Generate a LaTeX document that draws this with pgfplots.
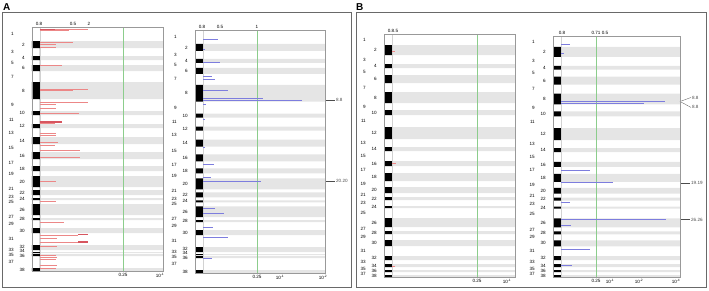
\documentclass[border=0pt]{standalone}
\usepackage{pgfplots}
\pgfplotsset{compat=1.18}
\usepackage{pgfplotstable}
\usepackage{fontspec}
\setmainfont{Liberation Sans}
\newcommand\lab{\fontsize{4.6}{5}\selectfont}
\definecolor{bandgray}{RGB}{229,229,229}
\definecolor{lred}{RGB}{236,135,135}
\definecolor{dred}{RGB}{215,85,95}
\definecolor{lblue}{RGB}{125,125,222}
\definecolor{lgreen}{RGB}{140,205,140}
\definecolor{framegray}{RGB}{105,105,105}

% even-numbered chromosome bands, panel A (start/end of each band)
\pgfplotstableread{
x y
0 41
1 41
1 48
0 48
0 56
1 56
1 60
0 60
0 65
1 65
1 71
0 71
0 82
1 82
1 99
0 99
0 111
1 111
1 115
0 115
0 124
1 124
1 128
0 128
0 137
1 137
1 144
0 144
0 152
1 152
1 159
0 159
0 166
1 166
1 171
0 171
0 176
1 176
1 187
0 187
0 190
1 190
1 195
0 195
0 198
1 198
1 200
0 200
0 204
1 204
1 215
0 215
0 218
1 218
1 220
0 220
0 228
1 228
1 233
0 233
0 245
1 245
1 250
0 250
0 252
1 252
1 253
0 253
0 254
1 254
1 256
0 256
0 268
1 268
1 271
0 271
}\bandsA

% panel B bands
\pgfplotstableread{
x y
0 45
1 45
1 55
0 55
0 64
1 64
1 68
0 68
0 75
1 75
1 83
0 83
0 92
1 92
1 103
0 103
0 110
1 110
1 115
0 115
0 127
1 127
1 139
0 139
0 147
1 147
1 151
0 151
0 161
1 161
1 166
0 166
0 173
1 173
1 181
0 181
0 187
1 187
1 193
0 193
0 197
1 197
1 200
0 200
0 206
1 206
1 208
0 208
0 218
1 218
1 227
0 227
0 231
1 231
1 234
0 234
0 240
1 240
1 246
0 246
0 256
1 256
1 260
0 260
0 264
1 264
1 267
0 267
0 270
1 270
1 272
0 272
0 275
1 275
1 277
0 277
}\bandsB

% panel A, left plot (red)
\pgfplotstableread{
x y
48 29
29 30
33 42
16 44
16 47
22 65
48 89
33 90.5
48 102
16 104
16 108
39 113
15 123.5
16 133
16 135
18 142
15 145
40 150
40 157
16 181
16 201
24 222
38 235
17 238
40 242
17 246
16 255
17 257
16 259
17 265
16 268
}\redA

% panel A, right plot (blue)
\pgfplotstableread{
x y
15 36
2 46
17 60
9 74
12 77
25 88
60 96
99 97.5
3 102
2 117
2 145
11 162
8 175
58 179
12 206
21 211
10 225
25 235
9 256
}\blueA

% panel B, left plot (red)
\pgfplotstableread{
x y
3 51
4 163
3 266
}\redB

% panel B, right plot (blue)
\pgfplotstableread{
x y
9 42
3 52
104 100
83 102
29 169
52 182
9 202
105 219
10 225
29 249
11 265
}\blueB

\pgfplotsset{
  chr/.style={
    scale only axis, anchor=north west, y dir=reverse, clip=false,
    axis line style={draw=gray!80, line width=0.4pt},
    xtick=\empty, major tick length=0pt,
    yticklabel style={font=\lab, anchor=east, inner sep=0pt, xshift=-18pt},
    extra y tick style={yticklabel style={xshift=11pt}},
    axis on top,
  },
  chrA/.style={chr, ymin=27, ymax=271, xmin=-8,
    ytick={34,52,62.5,76.5,105,119.5,132.5,148,162.5,173.5,188.5,196.5,202,216.5,224,239,249.5,254.5,262},
    yticklabels={1,3,5,7,9,11,13,15,17,19,21,23,25,27,29,31,33,35,37},
    extra y ticks={44.5,58,68,90.5,113,126,140.5,155.5,168.5,181.5,192.5,199,209.5,219,230.5,247,251.3,255.6,269.5},
    extra y tick labels={2,4,6,8,10,12,14,16,18,20,22,24,26,28,30,32,34,36,38}},
  chrB/.style={chr, ymin=34, ymax=277, xmin=-8,
    ytick={39.5,59.5,71.5,87.5,106.5,121,143,156,169.5,184,195,203,213,229,237,251,262,268.5,273.5},
    yticklabels={1,3,5,7,9,11,13,15,17,19,21,23,25,27,29,31,33,35,37},
    extra y ticks={50,66,79,97.5,112.5,133,149,163.5,177,190,198.5,207,222.5,232.5,243,258,265.5,271,276},
    extra y tick labels={2,4,6,8,10,12,14,16,18,20,22,24,26,28,30,32,34,36,38}},
}

% bands + ideogram (table, plot width, ymin, ymax)
\newcommand\ideo[4]{%
  \addplot[fill=bandgray, draw=none] table[x expr=\thisrow{x}*#2, y=y] {#1};
  \addplot[fill=black, draw=none] table[x expr=-8*\thisrow{x}, y=y] {#1};
  \addplot[black, line width=0.4pt] coordinates {(-8,#3) (0,#3) (0,#4) (-8,#4) (-8,#3)};
  \addplot[gray!35, line width=0.8pt] coordinates {(0.8,#3) (0.8,#4)};
}

\begin{document}
\begin{tikzpicture}
\useasboundingbox (0,0) rectangle (709pt,-290pt);
\draw[framegray, line width=0.8pt] (2pt,-12pt) rectangle (351pt,-287pt);
\draw[framegray, line width=0.8pt] (356pt,-12pt) rectangle (706pt,-287pt);
\node[anchor=base west, inner sep=0pt, font=\bfseries\fontsize{10}{10}\selectfont] at (3pt,-10pt) {A};
\node[anchor=base west, inner sep=0pt, font=\bfseries\fontsize{10}{10}\selectfont] at (356pt,-10pt) {B};

% ---------- A, left ----------
\begin{axis}[chrA, at={(32pt,-27pt)}, width=131pt, height=244pt, xmax=123]
\ideo{\bandsA}{123}{27}{271}
\addplot[lgreen, line width=0.5pt] coordinates {(83,27) (83,271)};
\addplot[lred, xcomb, line width=0.9pt] table {\redA};
\addplot[dred, line width=1.3pt] coordinates {(0,29.5) (15,29.5)};
\addplot[dred, line width=1.1pt] coordinates {(0,122) (22,122)};
\addplot[dred, line width=1.3pt] coordinates {(38,234.5) (48,234.5)};
\addplot[dred, line width=1.3pt] coordinates {(38,242) (48,242)};
\node[font=\lab, anchor=south, inner sep=1pt] at (axis cs:-1,27) {0.8};
\node[font=\lab, anchor=south, inner sep=1pt] at (axis cs:33,27) {0.5};
\node[font=\lab, anchor=south, inner sep=1pt] at (axis cs:49,27) {2};
\node[font=\lab, anchor=north, inner sep=2pt] at (axis cs:83,271) {0.25};
\node[font=\lab, anchor=north, inner sep=2pt] at (axis cs:120,271) {10\textsuperscript{-1}};
\end{axis}

% ---------- A, right ----------
\begin{axis}[chrA, at={(195pt,-30pt)}, width=130pt, height=243pt, xmax=122]
\ideo{\bandsA}{122}{27}{271}
\addplot[lgreen, line width=0.5pt] coordinates {(54,27) (54,271)};
\addplot[lblue, xcomb, line width=0.75pt] table {\blueA};
\node[font=\lab, anchor=south, inner sep=1pt] at (axis cs:-1,27) {0.8};
\node[font=\lab, anchor=south, inner sep=1pt] at (axis cs:17,27) {0.5};
\node[font=\lab, anchor=south, inner sep=1pt] at (axis cs:54,27) {1};
\node[font=\lab, anchor=north, inner sep=2pt] at (axis cs:54,271) {0.25};
\node[font=\lab, anchor=north, inner sep=2pt] at (axis cs:77,271) {10\textsuperscript{-1}};
\node[font=\lab, anchor=north, inner sep=2pt] at (axis cs:120,271) {10\textsuperscript{-2}};
\draw[gray!60!black, line width=0.3pt] (axis cs:122,97.5) -- (axis cs:132,97.5) node[right, font=\lab, inner sep=1pt] {8.8};
\draw[gray!60!black, line width=0.3pt] (axis cs:122,179) -- (axis cs:132,179) node[right, font=\lab, inner sep=1pt] {20.20};
\end{axis}

% ---------- B, left ----------
\begin{axis}[chrB, at={(384pt,-34pt)}, width=131pt, height=243pt, xmax=123]
\ideo{\bandsB}{123}{34}{277}
\addplot[lgreen, line width=0.5pt] coordinates {(85,34) (85,277)};
\addplot[lred, xcomb, line width=0.8pt] table {\redB};
\node[font=\lab, anchor=south, inner sep=1pt] at (axis cs:-1,34) {0.8};
\node[font=\lab, anchor=south, inner sep=1pt] at (axis cs:3,34) {\phantom{0}.5};
\node[font=\lab, anchor=north, inner sep=2pt] at (axis cs:85,277) {0.25};
\node[font=\lab, anchor=north, inner sep=2pt] at (axis cs:115,277) {10\textsuperscript{-1}};
\end{axis}

% ---------- B, right ----------
\begin{axis}[chrB, at={(553pt,-36pt)}, width=127pt, height=241pt, xmax=119]
\ideo{\bandsB}{119}{34}{277}
\addplot[lgreen, line width=0.5pt] coordinates {(35,34) (35,277)};
\addplot[lblue, xcomb, line width=0.75pt] table {\blueB};
\node[font=\lab, anchor=south, inner sep=1pt] at (axis cs:1,34) {0.8};
\node[font=\lab, anchor=south, inner sep=1pt] at (axis cs:35,34) {0.71};
\node[font=\lab, anchor=south, inner sep=1pt] at (axis cs:44,34) {0.5};
\node[font=\lab, anchor=north, inner sep=2pt] at (axis cs:35,277) {0.25};
\node[font=\lab, anchor=north, inner sep=2pt] at (axis cs:49,277) {10\textsuperscript{-1}};
\node[font=\lab, anchor=north, inner sep=2pt] at (axis cs:78,277) {10\textsuperscript{-2}};
\node[font=\lab, anchor=north, inner sep=2pt] at (axis cs:115,277) {10\textsuperscript{-4}};
\draw[gray!60!black, line width=0.3pt] (axis cs:119,100) -- (axis cs:130,96) node[right, font=\lab, inner sep=1pt] {8.8};
\draw[gray!60!black, line width=0.3pt] (axis cs:119,100) -- (axis cs:130,106) node[right, font=\lab, inner sep=1pt] {8.8};
\draw[gray!60!black, line width=0.3pt] (axis cs:119,182) -- (axis cs:129,182) node[right, font=\lab, inner sep=1pt] {19.19};
\draw[gray!60!black, line width=0.3pt] (axis cs:119,219) -- (axis cs:129,219) node[right, font=\lab, inner sep=1pt] {26.26};
\end{axis}
\end{tikzpicture}
\end{document}
